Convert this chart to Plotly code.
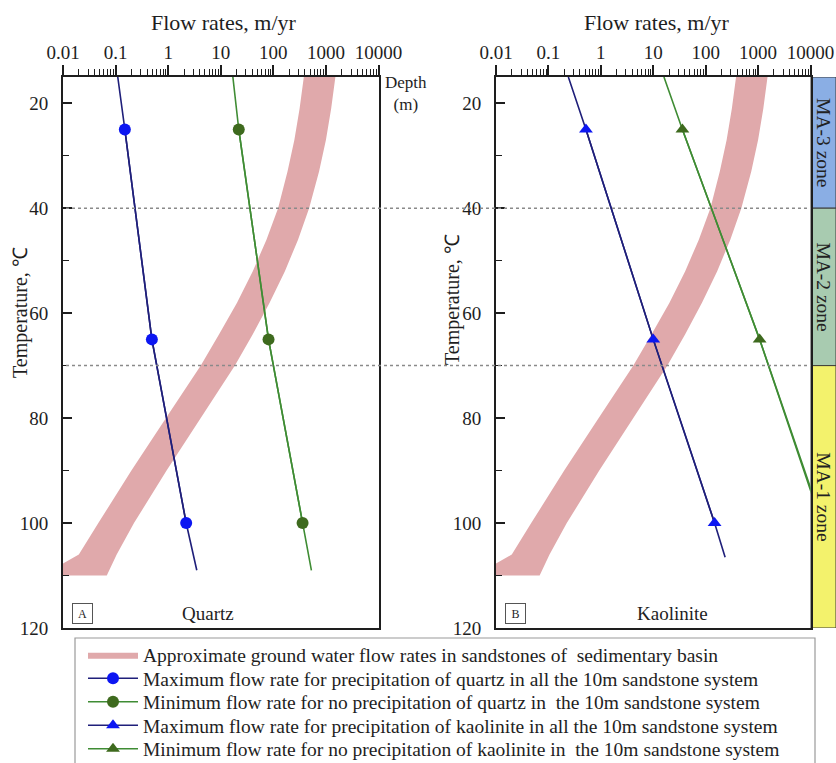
import plotly.graph_objects as go

# ---------------- data ----------------
# Quartz (panel A): flow-rate limits in m/yr versus temperature in deg C
quartz_T = [25, 65, 100]
quartz_max = [0.15, 0.49, 2.2]
quartz_min = [22, 81, 360]
quartz_line_T = [15, 25, 65, 100, 109]
quartz_max_line = [0.11, 0.15, 0.49, 2.2, 3.5]
quartz_min_line = [17, 22, 81, 360, 530]

# Kaolinite (panel B)
kaol_T = [25, 65, 100]
kaol_max = [0.52, 10, 148]
kaol_min = [36, 1070, 17000]
kaol_line_T = [15, 25, 65, 100, 106.5]
kaol_max_line = [0.24, 0.52, 10, 148, 235]
kaol_min_line = [16, 36, 1070, 17000, 27000]

# Approximate groundwater flow-rate envelope in basin sandstones
band_T = [15, 21, 27, 33, 40, 46, 52, 58, 64, 70, 80, 90, 100, 106, 110]
band_low = [380, 316, 251, 186, 123, 74, 40.7, 20.4, 9.3, 4.17, 0.91, 0.2,
            0.047, 0.02, 0.004]
band_high = [1514, 1259, 1000, 741, 479, 295, 166, 85, 40.7, 18.6, 4.17,
             0.933, 0.224, 0.105, 0.068]

# Diagenetic zones
zone_names = ["MA-3 zone", "MA-2 zone", "MA-1 zone"]
zone_top = [15, 40, 70]
zone_bottom = [40, 70, 120]
zone_colors = ["#8aaee4", "#a8cbb0", "#f3f26c"]
zone_bounds = [40, 70]

# Axis ticks
x_tickvals = [0.01, 0.1, 1, 10, 100, 1000, 10000]
x_ticktext = ["0.01", "0.1", "1", "10", "100", "1000", "10000"]
temp_ticks = [20, 40, 60, 80, 100, 120]
depth_ticks = list(range(0, 3401, 200))
depth_labels = ["" if d < 400 else str(d) for d in depth_ticks]

# Surface temperature and geothermal gradient linking T to depth
T_SURFACE = 15.0
GRADIENT = 0.03  # deg C per metre
T_RANGE = [120, 15]
DEPTH_RANGE = [(t - T_SURFACE) / GRADIENT for t in T_RANGE]

# ---------------- layout helpers ----------------
W, H = 836, 763
SERIF = "Liberation Serif, Times New Roman, serif"
INK = "#1e1e1e"
BLUE_LINE = "#1f1f7a"
BLUE_MARK = "#0c16f2"
GREEN_LINE = "#3f8c34"
GREEN_MARK = "#3e6a1e"
BAND = "#e0a9ab"


def px_x(p):
    return p / W


def px_y(p):
    return 1 - p / H


dom_A = [px_x(63), px_x(378.5)]
dom_B = [px_x(496), px_x(810.5)]
dom_Y = [px_y(628), px_y(77)]

fig = go.Figure()

band_x = band_low + band_high[::-1]
band_y = band_T + band_T[::-1]

# Panel A
fig.add_trace(go.Scatter(
    x=band_x, y=band_y, fill="toself", fillcolor=BAND, mode="lines",
    line=dict(width=0, color=BAND), xaxis="x", yaxis="y",
    name="Approximate ground water flow rates in sandstones of  sedimentary basin",
    legend="legend", hoverinfo="skip"))
fig.add_trace(go.Scatter(
    x=quartz_max_line, y=quartz_line_T, mode="lines",
    line=dict(color=BLUE_LINE, width=1.6), xaxis="x", yaxis="y", showlegend=False))
fig.add_trace(go.Scatter(
    x=quartz_max, y=quartz_T, mode="lines+markers",
    line=dict(color=BLUE_LINE, width=1.6),
    marker=dict(symbol="circle", size=12, color=BLUE_MARK),
    xaxis="x", yaxis="y", legend="legend2",
    name="Maximum flow rate for precipitation of quartz in all the 10m sandstone system"))
fig.add_trace(go.Scatter(
    x=quartz_min_line, y=quartz_line_T, mode="lines",
    line=dict(color=GREEN_LINE, width=1.6), xaxis="x", yaxis="y", showlegend=False))
fig.add_trace(go.Scatter(
    x=quartz_min, y=quartz_T, mode="lines+markers",
    line=dict(color=GREEN_LINE, width=1.6),
    marker=dict(symbol="circle", size=12, color=GREEN_MARK),
    xaxis="x", yaxis="y", legend="legend3",
    name="Minimum flow rate for no precipitation of quartz in  the 10m sandstone system"))

# Panel B
fig.add_trace(go.Scatter(
    x=band_x, y=band_y, fill="toself", fillcolor=BAND, mode="lines",
    line=dict(width=0, color=BAND), xaxis="x2", yaxis="y3",
    showlegend=False, hoverinfo="skip"))
fig.add_trace(go.Scatter(
    x=kaol_max_line, y=kaol_line_T, mode="lines",
    line=dict(color=BLUE_LINE, width=1.6), xaxis="x2", yaxis="y3", showlegend=False))
fig.add_trace(go.Scatter(
    x=kaol_max, y=kaol_T, mode="lines+markers",
    line=dict(color=BLUE_LINE, width=1.6),
    marker=dict(symbol="triangle-up", size=12, color=BLUE_MARK),
    xaxis="x2", yaxis="y3", legend="legend4",
    name="Maximum flow rate for precipitation of kaolinite in all the 10m sandstone system"))
fig.add_trace(go.Scatter(
    x=kaol_min_line, y=kaol_line_T, mode="lines",
    line=dict(color=GREEN_LINE, width=1.6), xaxis="x2", yaxis="y3", showlegend=False))
fig.add_trace(go.Scatter(
    x=kaol_min, y=kaol_T, mode="lines+markers",
    line=dict(color=GREEN_LINE, width=1.6),
    marker=dict(symbol="triangle-up", size=12, color=GREEN_MARK),
    xaxis="x2", yaxis="y3", legend="legend5",
    name="Minimum flow rate for no precipitation of kaolinite in  the 10m sandstone system"))

tick_font = dict(family=SERIF, size=19, color=INK)


def flow_axis(domain, anchor):
    return dict(
        type="log", range=[-2, 4], domain=domain, anchor=anchor, side="top",
        tickmode="array", tickvals=x_tickvals, ticktext=x_ticktext,
        ticks="outside", ticklen=10, tickwidth=1.5, tickcolor=INK,
        minor=dict(ticks="outside", ticklen=6, tickwidth=1.2, tickcolor=INK,
                   dtick="D1", showgrid=False),
        showline=True, linewidth=2, linecolor=INK, mirror=True,
        showgrid=False, zeroline=False, tickfont=tick_font,
        ticklabelstandoff=-2, automargin=False)


def temp_axis(anchor):
    return dict(
        range=T_RANGE, domain=dom_Y, anchor=anchor,
        tickmode="array", tickvals=temp_ticks,
        ticks="inside", ticklen=9, tickwidth=1.5, tickcolor=INK,
        minor=dict(ticks="inside", ticklen=6, tickwidth=1.2, tickcolor=INK,
                   dtick=10, tick0=0, showgrid=False),
        showline=True, linewidth=2, linecolor=INK, mirror=True,
        showgrid=False, zeroline=False, tickfont=tick_font,
        ticklabelstandoff=9, automargin=False)


def depth_axis(overlay, anchor, labels):
    return dict(
        range=DEPTH_RANGE, overlaying=overlay, anchor=anchor, side="right",
        tickmode="array", tickvals=depth_ticks,
        ticktext=depth_labels if labels else [""] * len(depth_ticks),
        ticks="inside", ticklen=8, tickwidth=1.5, tickcolor=INK,
        showline=True, linewidth=2, linecolor=INK,
        showgrid=False, zeroline=False,
        tickfont=dict(family=SERIF, size=18, color=INK),
        ticklabelstandoff=4, automargin=False)


legend_rows = [655, 678.5, 702, 725.5, 749]
legend_common = dict(
    x=px_x(83), xanchor="left", yanchor="middle",
    bgcolor="rgba(0,0,0,0)", borderwidth=0, itemwidth=50,
    font=dict(family=SERIF, size=19.5, color=INK), tracegroupgap=0)

layout = dict(
    width=W, height=H,
    margin=dict(l=0, r=0, t=0, b=0, pad=0, autoexpand=False),
    paper_bgcolor="white", plot_bgcolor="white",
    xaxis=flow_axis(dom_A, "y"),
    yaxis=temp_axis("x"),
    yaxis2=depth_axis("y", "x", True),
    xaxis2=flow_axis(dom_B, "y3"),
    yaxis3=temp_axis("x2"),
    yaxis4=depth_axis("y3", "x2", False),
)
for i, yc in enumerate(legend_rows):
    key = "legend" if i == 0 else "legend%d" % (i + 1)
    layout[key] = dict(legend_common, y=px_y(yc))
fig.update_layout(**layout)

shapes = []
# zone column to the right of panel B
for top, bot, col in zip(zone_top, zone_bottom, zone_colors):
    shapes.append(dict(type="rect", xref="paper", yref="y3",
                       x0=px_x(811), x1=1.0, y0=top, y1=bot,
                       fillcolor=col, line=dict(color="#3a3a3a", width=1),
                       layer="below"))
# zone boundaries carried across both panels
for t in zone_bounds:
    shapes.append(dict(type="line", xref="paper", yref="y",
                       x0=px_x(66), x1=px_x(809), y0=t, y1=t,
                       line=dict(color="#8a8a8a", width=1.5, dash="dot")))
# legend frame
shapes.append(dict(type="rect", xref="paper", yref="paper",
                   x0=px_x(75), x1=px_x(815), y0=px_y(775), y1=px_y(638),
                   line=dict(color="#9a9a9a", width=1.2)))
fig.update_layout(shapes=shapes)

ann = []
title_font = dict(family=SERIF, size=22, color=INK)
for xr in ["x domain", "x2 domain"]:
    ann.append(dict(text="Flow rates, m/yr", xref=xr, yref="paper",
                    x=0.51, y=px_y(23), xanchor="center", yanchor="middle",
                    showarrow=False, font=title_font))
for xc, yc in [(21, 313), (452, 300)]:
    ann.append(dict(text="Temperature, ℃", xref="paper", yref="paper",
                    x=px_x(xc), y=px_y(yc), xanchor="center", yanchor="middle",
                    textangle=-90, showarrow=False,
                    font=dict(family=SERIF, size=20, color=INK)))
# depth axis heading (two lines)
ann.append(dict(text="Depth<br>(m)", xref="paper", yref="paper", x=px_x(406),
                y=px_y(93), xanchor="center", yanchor="middle", align="center",
                showarrow=False, font=dict(family=SERIF, size=17, color=INK)))
# panel tags and mineral names
for xr, yr, tag in [("x domain", "y domain", "A"), ("x2 domain", "y3 domain", "B")]:
    ann.append(dict(text=tag, xref=xr, yref=yr, x=0.063, y=0.027,
                    xanchor="center", yanchor="middle",
                    showarrow=False, width=15, height=15, borderpad=2,
                    bordercolor="#555", borderwidth=1,
                    font=dict(family=SERIF, size=12, color=INK)))
for xr, yr, xt, name in [("x domain", "y domain", 0.46, "Quartz"),
                         ("x2 domain", "y3 domain", 0.562, "Kaolinite")]:
    ann.append(dict(text=name, xref=xr, yref=yr, x=xt, y=0.027,
                    xanchor="center", yanchor="middle",
                    showarrow=False, font=dict(family=SERIF, size=19, color=INK)))
# zone labels
for name, top, bot in zip(zone_names, zone_top, zone_bottom):
    ann.append(dict(text=name, xref="paper", yref="y3", x=px_x(823.5),
                    y=(top + bot) / 2, xanchor="center", yanchor="middle",
                    textangle=90, showarrow=False,
                    font=dict(family=SERIF, size=19.5, color="#222")))
fig.update_layout(annotations=ann)

fig.write_html("out.html")
